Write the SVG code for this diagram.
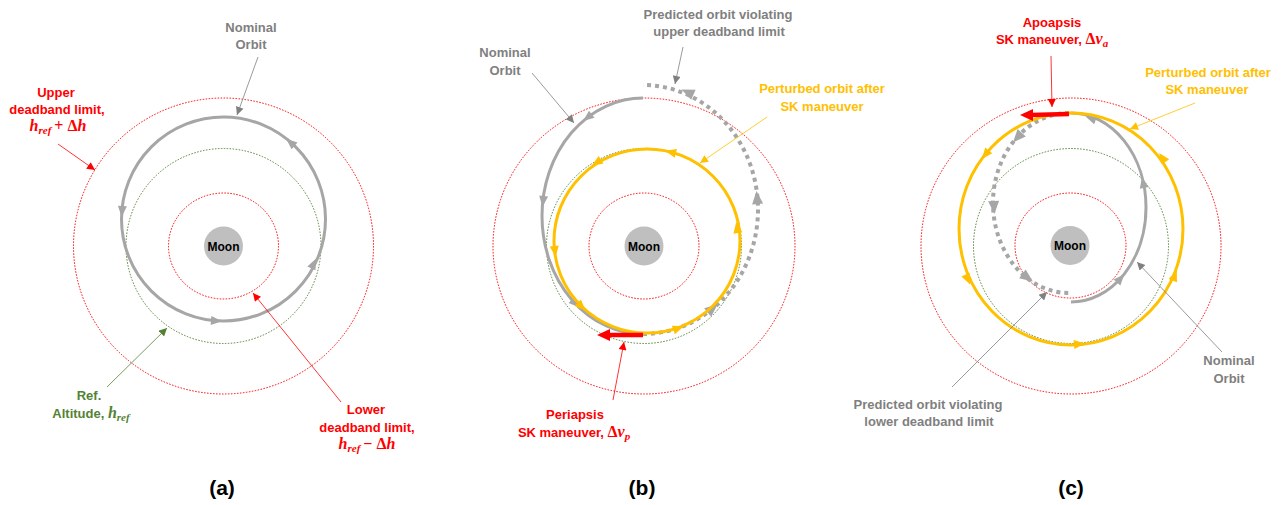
<svg xmlns="http://www.w3.org/2000/svg" width="1281" height="505" viewBox="0 0 1281 505">
<style>
text{font-family:"Liberation Sans",Arial,sans-serif;font-weight:bold;font-size:13px}
.m{font-family:"Liberation Serif","Times New Roman",serif;font-style:italic;font-weight:bold}
.up{font-style:normal}
.red{fill:#ff0000}.gry{fill:#7f7f7f}.grn{fill:#548235}.yel{fill:#ffc000}
.rdot{fill:none;stroke:#ff0000;stroke-width:1;stroke-dasharray:1.5 1.5}
.gdot{fill:none;stroke:#548235;stroke-width:1;stroke-dasharray:1.5 1.5}
.nom{fill:none;stroke:#a6a6a6;stroke-width:3}
.pred{fill:none;stroke:#a6a6a6;stroke-width:4;stroke-dasharray:4 4}
.pert{fill:none;stroke:#ffc000;stroke-width:3}
.man{stroke:#ff0000;stroke-width:4.5;fill:none}
.moon{fill:#bfbfbf}
.mt{font-size:12px;fill:#000}
.cap{font-size:21px;fill:#000}
.ann{fill:none;stroke-width:0.8}
.ahg{fill:#a6a6a6}.ahy{fill:#ffc000}
</style>
<defs>
<path id="ah" d="M5,0 L-6,-4.5 L-6,4.5 Z"/>
<path id="ahb" d="M6,0 L-7,-5.5 L-7,5.5 Z"/>
<marker id="mr" viewBox="0 0 10 10" refX="10" refY="5" markerWidth="9" markerHeight="8" markerUnits="userSpaceOnUse" orient="auto"><path d="M0,0 L10,5 L0,10 Z" fill="#ff0000"/></marker>
<marker id="mg" viewBox="0 0 10 10" refX="10" refY="5" markerWidth="9" markerHeight="8" markerUnits="userSpaceOnUse" orient="auto"><path d="M0,0 L10,5 L0,10 Z" fill="#808080"/></marker>
<marker id="mn" viewBox="0 0 10 10" refX="10" refY="5" markerWidth="9" markerHeight="8" markerUnits="userSpaceOnUse" orient="auto"><path d="M0,0 L10,5 L0,10 Z" fill="#548235"/></marker>
<marker id="my" viewBox="0 0 10 10" refX="10" refY="5" markerWidth="9" markerHeight="8" markerUnits="userSpaceOnUse" orient="auto"><path d="M0,0 L10,5 L0,10 Z" fill="#ffc000"/></marker>
</defs>
<rect width="1281" height="505" fill="#ffffff"/>

<!-- Panel (a) -->
<g id="panel-a">
<ellipse class="rdot" cx="223.5" cy="246" rx="150" ry="148"/>
<ellipse class="gdot" cx="223.5" cy="246" rx="97.5" ry="97.5"/>
<ellipse class="rdot" cx="223.5" cy="246" rx="55" ry="53"/>
<circle class="nom" cx="223.5" cy="219" r="102"/>
<use href="#ah" class="ahg" transform="translate(290,142) rotate(-139)"/>
<use href="#ah" class="ahg" transform="translate(122,212) rotate(94)"/>
<use href="#ah" class="ahg" transform="translate(217,321) rotate(4)"/>
<use href="#ah" class="ahg" transform="translate(314,263) rotate(-64)"/>
</g>
<g id="moon-a"><circle class="moon" cx="223.5" cy="246" r="19.5"/><text class="mt" x="223.5" y="250.5" text-anchor="middle">Moon</text></g>
<g id="lbl-nominal-a"><text class="gry" text-anchor="middle"><tspan x="251" y="32">Nominal</tspan><tspan x="251" y="49">Orbit</tspan></text></g>
<g id="lbl-upper-a"><text class="red" text-anchor="middle"><tspan x="56" y="97">Upper</tspan><tspan x="57" y="114">deadband limit,</tspan></text>
<text class="red" text-anchor="middle" x="58" y="131"><tspan class="m" font-size="16">h</tspan><tspan class="m" font-size="11" dy="3">ref</tspan><tspan class="m up" font-size="16" dy="-3" dx="3">+ Δ</tspan><tspan class="m" font-size="16">h</tspan></text></g>
<g id="lbl-ref-a"><text class="grn" text-anchor="middle" x="89" y="400">Ref.</text>
<text class="grn" text-anchor="middle" x="91" y="418">Altitude, <tspan class="m" font-size="16">h</tspan><tspan class="m" font-size="11" dy="3">ref</tspan></text></g>
<g id="lbl-lower-a"><text class="red" text-anchor="middle"><tspan x="366" y="414">Lower</tspan><tspan x="367" y="432">deadband limit,</tspan></text>
<text class="red" text-anchor="middle" x="367" y="449"><tspan class="m" font-size="16">h</tspan><tspan class="m" font-size="11" dy="3">ref</tspan><tspan class="m up" font-size="16" dy="-3" dx="3">− Δ</tspan><tspan class="m" font-size="16">h</tspan></text></g>
<g id="cap-a"><text class="cap" x="222" y="495" text-anchor="middle">(a)</text></g>

<!-- Panel (b) -->
<g id="panel-b">
<ellipse class="rdot" cx="644" cy="246" rx="151" ry="148"/>
<ellipse class="gdot" cx="644" cy="246" rx="97.5" ry="97.5"/>
<ellipse class="rdot" cx="644" cy="246" rx="55" ry="53"/>
<path class="nom" d="M643,98 A101,118 0 0 0 643,334"/>
<path class="pred" d="M643,334 A115,124.5 0 0 0 643,85"/>
<use href="#ah" class="ahg" transform="translate(587,118) rotate(142)"/>
<use href="#ah" class="ahg" transform="translate(543,202) rotate(96)"/>
<use href="#ah" class="ahg" transform="translate(576,304) rotate(45)"/>
<use href="#ahb" class="ahg" transform="translate(687,92) rotate(-156)"/>
<use href="#ahb" class="ahg" transform="translate(757,197) rotate(-95)"/>
<use href="#ahb" class="ahg" transform="translate(713,308) rotate(-40)"/>
<ellipse class="pert" cx="647" cy="241" rx="93" ry="92"/>
<use href="#ah" class="ahy" transform="translate(596,163) rotate(147)"/>
<use href="#ah" class="ahy" transform="translate(670,152) rotate(-166)"/>
<use href="#ah" class="ahy" transform="translate(737,227) rotate(-99)"/>
<use href="#ah" class="ahy" transform="translate(555,252) rotate(83)"/>
<use href="#ah" class="ahy" transform="translate(582,307) rotate(45)"/>
<use href="#ah" class="ahy" transform="translate(679,328) rotate(-20)"/>
<path class="man" d="M643,335 L608,335"/>
<polygon fill="#ff0000" points="597,335 610,329 610,341"/>
</g>
<g id="moon-b"><circle class="moon" cx="644" cy="246" r="19.5"/><text class="mt" x="644" y="250.5" text-anchor="middle">Moon</text></g>
<g id="lbl-nominal-b"><text class="gry" text-anchor="middle"><tspan x="505" y="57">Nominal</tspan><tspan x="505" y="75">Orbit</tspan></text></g>
<g id="lbl-pred-b"><text class="gry" text-anchor="middle"><tspan x="718" y="19">Predicted orbit violating</tspan><tspan x="719" y="36">upper deadband limit</tspan></text></g>
<g id="lbl-pert-b"><text class="yel" text-anchor="middle"><tspan x="822" y="93">Perturbed orbit after</tspan><tspan x="822" y="111">SK maneuver</tspan></text></g>
<g id="lbl-peri-b"><text class="red" text-anchor="middle"><tspan x="575" y="419">Periapsis</tspan></text>
<text class="red" text-anchor="middle" x="574" y="437">SK maneuver, <tspan class="m up" font-size="16">Δ</tspan><tspan class="m" font-size="16">v</tspan><tspan class="m" font-size="11" dy="3">p</tspan></text></g>
<g id="cap-b"><text class="cap" x="642" y="495" text-anchor="middle">(b)</text></g>

<!-- Panel (c) -->
<g id="panel-c">
<ellipse class="rdot" cx="1071" cy="246" rx="150" ry="148"/>
<ellipse class="gdot" cx="1071" cy="246" rx="97.5" ry="97.5"/>
<ellipse class="rdot" cx="1070.5" cy="245.5" rx="55.5" ry="52.5"/>
<path class="nom" d="M1071,302 A75,94.5 0 0 0 1071,113"/>
<path class="pred" d="M1069,113 A76,90 0 0 0 1069,293"/>
<use href="#ah" class="ahg" transform="translate(1090,118) rotate(-161)"/>
<use href="#ah" class="ahg" transform="translate(1143,182) rotate(-102)"/>
<use href="#ah" class="ahg" transform="translate(1121,278) rotate(-48)"/>
<use href="#ahb" class="ahg" transform="translate(1017,138) rotate(132)"/>
<use href="#ahb" class="ahg" transform="translate(994,208) rotate(87)"/>
<use href="#ahb" class="ahg" transform="translate(1028,278) rotate(37)"/>
<ellipse class="pert" cx="1071" cy="229" rx="112" ry="116"/>
<use href="#ah" class="ahy" transform="translate(985,155) rotate(129)"/>
<use href="#ah" class="ahy" transform="translate(1162,157) rotate(-126)"/>
<use href="#ah" class="ahy" transform="translate(968,280) rotate(65)"/>
<use href="#ah" class="ahy" transform="translate(1080,344) rotate(-5)"/>
<use href="#ah" class="ahy" transform="translate(1175,275) rotate(-68)"/>
<path class="man" d="M1069,114 L1031,115"/>
<polygon fill="#ff0000" points="1020,115 1033,109 1033,121"/>
</g>
<g id="moon-c"><circle class="moon" cx="1070" cy="245.5" r="19.5"/><text class="mt" x="1070" y="250" text-anchor="middle">Moon</text></g>
<g id="lbl-apo-c"><text class="red" text-anchor="middle"><tspan x="1052" y="27">Apoapsis</tspan></text>
<text class="red" text-anchor="middle" x="1052" y="44">SK maneuver, <tspan class="m up" font-size="16">Δ</tspan><tspan class="m" font-size="16">v</tspan><tspan class="m" font-size="11" dy="3">a</tspan></text></g>
<g id="lbl-pert-c"><text class="yel" text-anchor="middle"><tspan x="1208" y="77">Perturbed orbit after</tspan><tspan x="1207" y="94">SK maneuver</tspan></text></g>
<g id="lbl-nominal-c"><text class="gry" text-anchor="middle"><tspan x="1229" y="365">Nominal</tspan><tspan x="1229" y="383">Orbit</tspan></text></g>
<g id="lbl-pred-c"><text class="gry" text-anchor="middle"><tspan x="928" y="409">Predicted orbit violating</tspan><tspan x="929" y="426">lower deadband limit</tspan></text></g>
<g id="cap-c"><text class="cap" x="1071" y="495" text-anchor="middle">(c)</text></g>

<!-- Connectors -->
<g id="connectors" class="ann">
<path stroke="#808080" marker-end="url(#mg)" d="M258,57 L237,115"/>
<path stroke="#ff0000" marker-end="url(#mr)" d="M58,144 L95,170"/>
<path stroke="#548235" marker-end="url(#mn)" d="M107,387 L167,328"/>
<path stroke="#ff0000" marker-end="url(#mr)" d="M341,402 L253,293"/>
<path stroke="#808080" marker-end="url(#mg)" d="M532,73 L574,123"/>
<path stroke="#808080" marker-end="url(#mg)" d="M683,47 L675,84"/>
<path stroke="#ffc000" marker-end="url(#my)" d="M767,117 L700,163"/>
<path stroke="#ff0000" marker-end="url(#mr)" d="M613,400 L624,342"/>
<path stroke="#ff0000" marker-end="url(#mr)" d="M1051,56 L1052,107"/>
<path stroke="#ffc000" marker-end="url(#my)" d="M1195,103 L1130,129"/>
<path stroke="#808080" marker-end="url(#mg)" d="M1222,352 L1137,262"/>
<path stroke="#808080" marker-end="url(#mg)" d="M952,387 L1047,292"/>
</g>
</svg>
